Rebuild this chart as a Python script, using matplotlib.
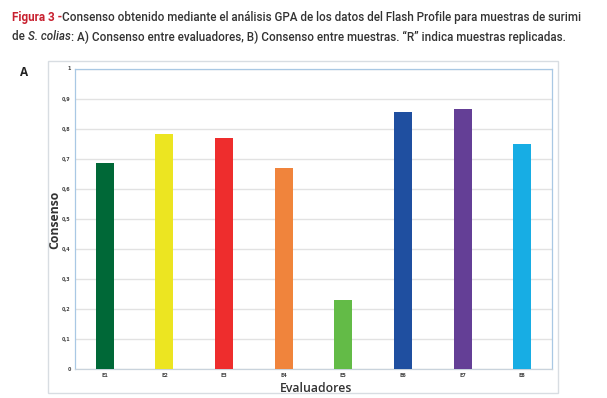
import matplotlib
matplotlib.use("Agg")
import matplotlib.pyplot as plt
from matplotlib.patches import Rectangle

categories = ["E1", "E2", "E3", "E4", "E5", "E6", "E7", "E8"]
consenso = [0.686, 0.782, 0.769, 0.669, 0.230, 0.855, 0.865, 0.749]
colors = ["#006837", "#ECE521", "#EE2D2D", "#F0843C", "#63BB47", "#1F4FA0", "#643F96", "#17ADE4"]
yticks = [0, 0.1, 0.2, 0.3, 0.4, 0.5, 0.6, 0.7, 0.8, 0.9, 1]
ytick_labels = ["0", "0,1", "0,2", "0,3", "0,4", "0,5", "0,6", "0,7", "0,8", "0,9", "1"]

W, H = 607, 398
fig = plt.figure(figsize=(W / 100, H / 100), dpi=100)
fig.patch.set_facecolor("white")

# outer chart frame
fig.patches.append(Rectangle((48 / W, 1 - 393 / H), (558 - 48) / W, (393 - 61) / H,
                             transform=fig.transFigure, fill=False,
                             edgecolor="#d8dde2", linewidth=1.0))

ax = fig.add_axes([75 / W, 1 - 369 / H, (552 - 75) / W, (369 - 68.5) / H])
x = list(range(len(categories)))
ax.bar(x, consenso, width=0.3, color=colors, zorder=3)
ax.set_xlim(-0.5, len(categories) - 0.5)
ax.set_ylim(0, 1)
ax.set_yticks(yticks)
ax.set_yticklabels(ytick_labels)
ax.set_xticks(x)
ax.set_xticklabels(categories)
ax.tick_params(axis="both", length=0, labelsize=3.5, colors="#444444", pad=3)
for lab in ax.get_yticklabels() + ax.get_xticklabels():
    lab.set_fontweight("bold")
ax.grid(axis="y", color="#e2e2e2", linewidth=1.0, zorder=0)
for s in ax.spines.values():
    s.set_color("#a9c8e4")
    s.set_linewidth(0.9)
ax.spines["bottom"].set_color("#c9d3dc")
ax.set_facecolor("white")

ax.set_ylabel("Consenso", fontsize=8.8, fontweight="bold", color="#333333",
              family="Open Sans", labelpad=2)
ax.yaxis.set_label_coords(-0.029, 0.496)
ax.set_xlabel("Evaluadores", fontsize=8.8, fontweight="semibold", color="#333333",
              family="Open Sans", labelpad=0)
ax.xaxis.set_label_coords(0.505, -0.043)

# caption, laid out segment by segment
renderer = fig.canvas.get_renderer()
cap_font = "Roboto"
line1 = [("Figura 3 -", "#C8202F", "bold", "normal"),
         ("Consenso obtenido mediante el análisis GPA de los datos del Flash Profile para muestras de surimi",
          "#333333", "medium", "normal")]
line2 = [("de ", "#333333", "medium", "normal"),
         ("S. colias", "#333333", "medium", "italic"),
         (": A) Consenso entre evaluadores, B) Consenso entre muestras. “R” indica muestras replicadas.",
          "#333333", "medium", "normal")]


def place(segs, y, size):
    xpos = 12
    for txt, col, wt, st in segs:
        t = fig.text(xpos / W, 1 - y / H, txt, color=col, fontsize=size, fontweight=wt,
                     style=st, family=cap_font, va="center", ha="left")
        bb = t.get_window_extent(renderer)
        xpos += bb.width
    return xpos


# find size so line 1 spans ~568 px
probe = []
tot = 0
for txt, col, wt, st in line1:
    t = fig.text(0, 0, txt, fontsize=10, fontweight=wt, style=st, family=cap_font)
    tot += t.get_window_extent(renderer).width
    probe.append(t)
for t in probe:
    t.remove()
size = 10 * 568 / tot

place(line1, 17, size)
place(line2, 37, size)

fig.text(20 / W, 1 - 73 / H, "A", fontsize=8.5, fontweight="bold", color="#222222",
         family="Open Sans", va="center", ha="left")

fig.savefig("out.png", dpi=100, facecolor="white")
